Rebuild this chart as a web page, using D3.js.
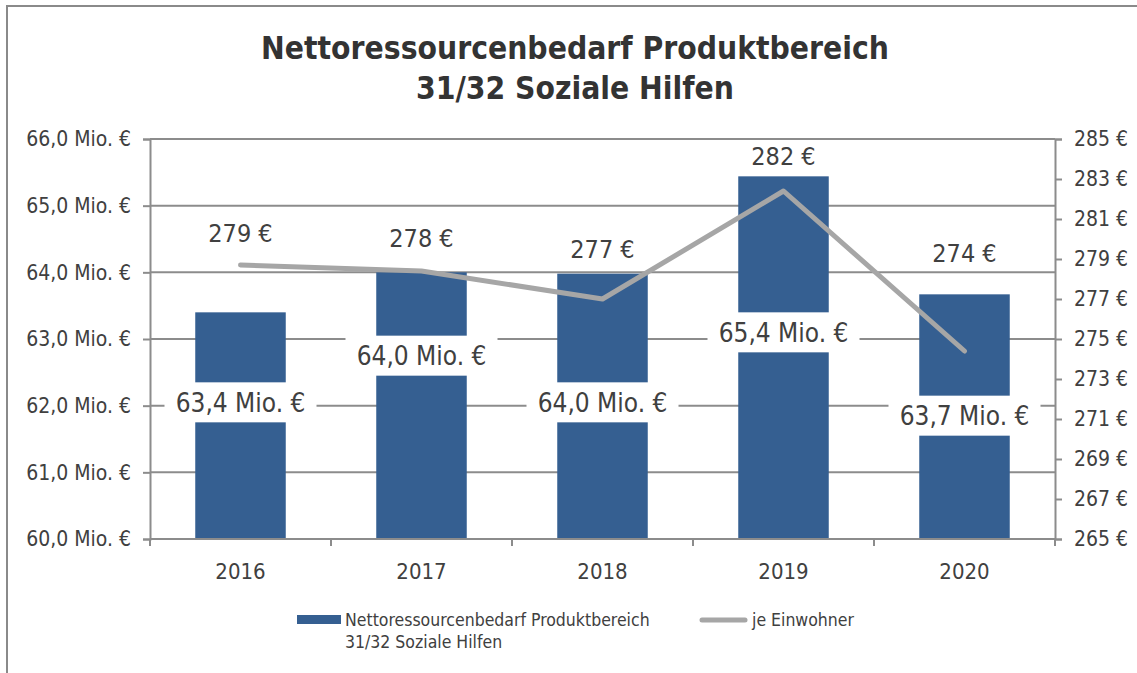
<!DOCTYPE html>
<html>
<head>
<meta charset="utf-8">
<script src="https://cdn.jsdelivr.net/npm/d3@7"></script>
<style>
  body { margin: 0; background: #fff; }
  text { font-family: "DejaVu Sans Condensed", "DejaVu Sans", sans-serif; fill: #404040; }
</style>
</head>
<body>
<svg id="chart"></svg>
<script>
// data
const years = ["2016", "2017", "2018", "2019", "2020"];
const bedarf = [63.40, 64.00, 63.98, 65.44, 63.67];      // Mio. €
const proEinwohner = [278.7, 278.4, 277.0, 282.4, 274.4]; // € je Einwohner
const leftTicks = [60, 61, 62, 63, 64, 65, 66];
const rightTicks = [265, 267, 269, 271, 273, 275, 277, 279, 281, 283, 285];
// where the (hand placed) labels sit, in axis units
const bedarfLabelAt = [62.05, 62.75, 62.05, 63.1, 61.85];
const einwohnerLabelAt = [280.3, 280.05, 279.5, 284.15, 279.3];

const svgWidth = 1137, svgHeight = 673;
const margin = { top: 139, right: 82, bottom: 134, left: 150 };
const width = svgWidth - margin.left - margin.right;
const height = svgHeight - margin.top - margin.bottom;

const barColor = "#355f91", gridColor = "#8c8c8c", lineColor = "#a6a6a6";

const fmtMio = v => v.toFixed(1).replace(".", ",") + " Mio. €";
const fmtEur = v => Math.round(v) + " €";

const svg = d3.select("#chart")
    .attr("width", svgWidth)
    .attr("height", svgHeight);

// outer frame (only top and left visible in the picture)
svg.append("rect")
    .attr("x", 7).attr("y", 6)
    .attr("width", svgWidth + 10).attr("height", svgHeight + 10)
    .attr("fill", "none")
    .attr("stroke", "#8a8a8a")
    .attr("stroke-width", 2);

// title
const title = svg.append("text")
    .attr("x", 575)
    .attr("text-anchor", "middle")
    .style("font-weight", "bold")
    .style("font-size", "31.5px")
    .style("fill", "#333");
title.append("tspan").attr("x", 575).attr("y", 59).text("Nettoressourcenbedarf Produktbereich");
title.append("tspan").attr("x", 575).attr("y", 99).text("31/32 Soziale Hilfen");

const g = svg.append("g")
    .attr("transform", "translate(" + margin.left + "," + margin.top + ")");

const x = d3.scaleBand()
    .domain(years)
    .range([0, width])
    .paddingInner(0.5)
    .paddingOuter(0.25);

const y = d3.scaleLinear().domain([60, 66]).range([height, 0]);
const y2 = d3.scaleLinear().domain([265, 285]).range([height, 0]);

// gridlines
g.append("g")
    .selectAll("line")
    .data(leftTicks)
    .join("line")
    .attr("x1", 0).attr("x2", width)
    .attr("y1", d => y(d)).attr("y2", d => y(d))
    .attr("stroke", gridColor)
    .attr("stroke-width", 2);

// left axis
const yAxis = g.append("g")
    .call(d3.axisLeft(y).tickValues(leftTicks).tickSize(7).tickPadding(12).tickFormat(fmtMio));
yAxis.select(".domain").attr("stroke", gridColor).attr("stroke-width", 2);
yAxis.selectAll(".tick line").attr("stroke", gridColor).attr("stroke-width", 2);
yAxis.selectAll(".tick text").style("font-size", "21px").style("font-family", null);

// right axis
const y2Axis = g.append("g")
    .attr("transform", "translate(" + width + ",0)")
    .call(d3.axisRight(y2).tickValues(rightTicks).tickSize(7).tickPadding(12).tickFormat(d => d + " €"));
y2Axis.select(".domain").attr("stroke", gridColor).attr("stroke-width", 2);
y2Axis.selectAll(".tick line").attr("stroke", gridColor).attr("stroke-width", 2);
y2Axis.selectAll(".tick text").style("font-size", "21px").style("font-family", null);

// bars
g.append("g")
    .selectAll("rect")
    .data(years)
    .join("rect")
    .attr("x", d => x(d))
    .attr("width", x.bandwidth())
    .attr("y", (d, i) => y(bedarf[i]))
    .attr("height", (d, i) => height - y(bedarf[i]))
    .attr("fill", barColor);

// x axis
const step = x.step();
const xAxis = g.append("g")
    .attr("transform", "translate(0," + height + ")");
xAxis.append("line")
    .attr("x1", 0).attr("x2", width)
    .attr("stroke", gridColor).attr("stroke-width", 2);
xAxis.selectAll(".sep")
    .data(d3.range(years.length + 1))
    .join("line")
    .attr("class", "sep")
    .attr("x1", i => i * step).attr("x2", i => i * step)
    .attr("y1", 0).attr("y2", 7)
    .attr("stroke", gridColor).attr("stroke-width", 2);
xAxis.selectAll("text")
    .data(years)
    .join("text")
    .attr("x", d => x(d) + x.bandwidth() / 2)
    .attr("y", 40)
    .attr("text-anchor", "middle")
    .style("font-size", "22px")
    .text(d => d);

// line
const line = d3.line()
    .x((d, i) => x(years[i]) + x.bandwidth() / 2)
    .y(d => y2(d));

g.append("path")
    .datum(proEinwohner)
    .attr("fill", "none")
    .attr("stroke", lineColor)
    .attr("stroke-width", 5)
    .attr("stroke-linejoin", "round")
    .attr("stroke-linecap", "round")
    .attr("d", line);

// bar labels with white boxes
const barLabels = g.append("g")
    .selectAll("g")
    .data(years)
    .join("g")
    .attr("transform", (d, i) => "translate(" + (x(d) + x.bandwidth() / 2) + "," + y(bedarfLabelAt[i]) + ")");
barLabels.append("rect")
    .attr("x", -76).attr("y", -20)
    .attr("width", 152).attr("height", 40)
    .attr("fill", "#fff");
barLabels.append("text")
    .attr("text-anchor", "middle")
    .attr("dy", "0.36em")
    .style("font-size", "26px")
    .text((d, i) => fmtMio(bedarf[i]));

// line labels
g.append("g")
    .selectAll("text")
    .data(proEinwohner)
    .join("text")
    .attr("x", (d, i) => x(years[i]) + x.bandwidth() / 2)
    .attr("y", (d, i) => y2(einwohnerLabelAt[i]))
    .attr("text-anchor", "middle")
    .attr("dy", "0.36em")
    .style("font-size", "25px")
    .text(d => fmtEur(d));

// legend
const legend = svg.append("g").attr("transform", "translate(0,620)");
legend.append("rect")
    .attr("x", 297).attr("y", -5)
    .attr("width", 44).attr("height", 9)
    .attr("fill", barColor);
const lt = legend.append("text")
    .style("font-size", "17.5px");
lt.append("tspan").attr("x", 345).attr("y", 6).text("Nettoressourcenbedarf Produktbereich");
lt.append("tspan").attr("x", 345).attr("y", 28).text("31/32 Soziale Hilfen");
legend.append("line")
    .attr("x1", 702).attr("x2", 745)
    .attr("y1", 0).attr("y2", 0)
    .attr("stroke", lineColor)
    .attr("stroke-width", 5)
    .attr("stroke-linecap", "round");
legend.append("text")
    .attr("x", 752).attr("y", 6)
    .style("font-size", "17.5px")
    .text("je Einwohner");
</script>
</body>
</html>
